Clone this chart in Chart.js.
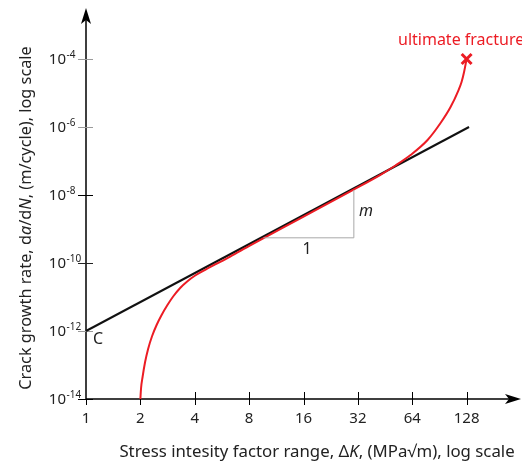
<!DOCTYPE html>
<html>
<head>
<meta charset="utf-8">
<script src="https://cdn.jsdelivr.net/npm/chart.js@4.4.1/dist/chart.umd.min.js"></script>
<style>
  html, body { margin: 0; padding: 0; background: #fff; }
  #wrap { width: 522px; height: 465px; }
</style>
</head>
<body>
<div id="wrap"><canvas id="crackChart" width="522" height="465"></canvas></div>
<script>
// red measured curve (stress intensity range vs crack growth rate)
const deltaK = [2, 2.018, 2.057, 2.124, 2.207, 2.323, 2.46, 2.622, 2.813, 3.037, 3.321, 3.631, 4.021, 4.569, 5.191, 6.287, 8.117, 15.37, 29.09, 42.68, 51.7, 62.6, 77.8, 91.8, 104.3, 115.5, 120.0, 123.9, 128];
const growthRate = [1e-14, 2.11e-14, 4.44e-14, 1.22e-13, 2.96e-13, 7.13e-13, 1.5e-12, 2.96e-12, 5.62e-12, 1.035e-11, 1.84e-11, 2.86e-11, 4.29e-11, 6.31e-11, 9.04e-11, 1.55e-10, 3.3e-10, 2.05e-9, 1.28e-8, 3.93e-8, 7.38e-8, 1.5e-7, 4.15e-7, 1.31e-6, 3.87e-6, 1.22e-5, 2.11e-5, 4.15e-5, 1e-4];

// Paris law straight line
const parisK = [1, 132];
const parisRate = [1e-12, 1e-6];

// slope triangle (1 : m)
const slopeK = [9.6, 30.4, 30.4];
const slopeRate = [5.5e-10, 5.5e-10, 1.4e-8];

const fractureK = [128];
const fractureRate = [1e-4];

const xTicks = [1, 2, 4, 8, 16, 32, 64, 128];
const yExponents = [-14, -12, -10, -8, -6, -4];
const yTickColors = ['#000', '#9a9a9a', '#222', '#000', '#9a9a9a', '#9a9a9a'];

const RED = '#ec1c24';
const FONT = '"Noto Sans", "Open Sans", sans-serif';

const pts = (xs, ys) => xs.map((x, i) => ({ x: x, y: ys[i] }));

function drawSegments(ctx, parts, size) {
    // parts: [text, italic]; drawn centred on 0,0
    const widths = parts.map(p => {
        ctx.font = (p[1] ? 'italic ' : '') + size + 'px ' + FONT;
        return ctx.measureText(p[0]).width;
    });
    let x = -widths.reduce((a, b) => a + b, 0) / 2;
    parts.forEach((p, i) => {
        ctx.font = (p[1] ? 'italic ' : '') + size + 'px ' + FONT;
        ctx.fillText(p[0], x, 0);
        x += widths[i];
    });
}

const axesPlugin = {
    id: 'axes',
    beforeDatasetsDraw(c) {
        const ctx = c.ctx, xs = c.scales.x, ys = c.scales.y;
        const x0 = Math.round(xs.getPixelForValue(1)), y0 = Math.round(ys.getPixelForValue(1e-14));
        const top = c.chartArea.top, right = c.chartArea.right;
        ctx.save();
        ctx.strokeStyle = '#000';
        ctx.lineWidth = 1.5;
        ctx.beginPath();
        ctx.moveTo(x0, y0); ctx.lineTo(x0, top + 4);
        ctx.moveTo(x0, y0); ctx.lineTo(right - 4, y0);
        ctx.stroke();

        // arrow heads
        ctx.fillStyle = '#000';
        ctx.beginPath();
        ctx.moveTo(x0, top); ctx.lineTo(x0 + 5, top + 16); ctx.lineTo(x0, top + 12); ctx.lineTo(x0 - 5, top + 16);
        ctx.closePath(); ctx.fill();
        ctx.beginPath();
        ctx.moveTo(right, y0); ctx.lineTo(right - 16, y0 - 5); ctx.lineTo(right - 12, y0); ctx.lineTo(right - 16, y0 + 5);
        ctx.closePath(); ctx.fill();

        // x ticks
        ctx.lineWidth = 1;
        xTicks.forEach(v => {
            const px = Math.round(xs.getPixelForValue(v)) + 0.5;
            ctx.beginPath();
            ctx.moveTo(px, v === 1 ? y0 : y0 - 7); ctx.lineTo(px, y0 + 6);
            ctx.stroke();
        });
        // y ticks
        yExponents.forEach((e, i) => {
            const py = Math.round(ys.getPixelForValue(Math.pow(10, e))) + 0.5;
            ctx.strokeStyle = yTickColors[i];
            ctx.beginPath();
            ctx.moveTo(x0 - 8, py); ctx.lineTo(x0 + 7, py);
            ctx.stroke();
        });
        ctx.restore();
    },
    afterDraw(c) {
        const ctx = c.ctx, xs = c.scales.x, ys = c.scales.y;
        ctx.save();
        ctx.fillStyle = '#222';
        ctx.textBaseline = 'middle';

        // x tick labels
        ctx.font = '15px ' + FONT;
        ctx.textAlign = 'center';
        xTicks.forEach(v => ctx.fillText(String(v), xs.getPixelForValue(v), 419));

        // y tick labels 10^e
        yExponents.forEach(e => {
            const py = ys.getPixelForValue(Math.pow(10, e));
            ctx.font = '15px ' + FONT;
            ctx.textAlign = 'right';
            ctx.textBaseline = 'middle';
            ctx.fillText('10', 66, py + 1);
            ctx.font = '10px ' + FONT;
            ctx.textAlign = 'left';
            ctx.textBaseline = 'alphabetic';
            ctx.fillText('-' + Math.abs(e), 66.5, py - 1.5);
        });

        // axis titles
        ctx.textAlign = 'left';
        ctx.textBaseline = 'middle';
        ctx.save();
        ctx.translate(317, 452);
        drawSegments(ctx, [['Stress intesity factor range, \u0394', false], ['K', true], [', (MPa\u221Am), log scale', false]], 16.8);
        ctx.restore();
        ctx.save();
        ctx.translate(26, 218);
        ctx.rotate(-Math.PI / 2);
        drawSegments(ctx, [['Crack growth rate, d', false], ['a', true], ['/d', false], ['N', true], [', (m/cycle), log scale', false]], 16.3);
        ctx.restore();

        // annotations
        ctx.font = '16px ' + FONT;
        ctx.fillText('C', 93, 339);
        ctx.textAlign = 'center';
        ctx.fillText('1', 307, 249);
        ctx.font = 'italic 16px ' + FONT;
        ctx.fillText('m', 366, 211);
        ctx.fillStyle = RED;
        ctx.font = '16px ' + FONT;
        ctx.textAlign = 'left';
        ctx.fillText('ultimate fracture', 398, 40);
        ctx.restore();
    }
};

chart = new Chart(document.getElementById('crackChart').getContext('2d'), {
    type: 'line',
    data: {
        datasets: [
            {
                data: pts(slopeK, slopeRate),
                borderColor: '#a8a8a8',
                borderWidth: 1,
                pointRadius: 0,
                tension: 0
            },
            {
                data: pts(deltaK, growthRate),
                borderColor: RED,
                borderWidth: 2,
                pointRadius: 0,
                cubicInterpolationMode: 'monotone'
            },
            {
                data: pts(parisK, parisRate),
                borderColor: '#111',
                borderWidth: 2,
                pointRadius: 0,
                tension: 0
            },
            {
                data: pts(fractureK, fractureRate),
                showLine: false,
                pointStyle: 'crossRot',
                pointRadius: 7,
                borderColor: RED,
                borderWidth: 3
            }
        ]
    },
    options: {
        responsive: false,
        animation: false,
        layout: { autoPadding: false, padding: { left: 86, top: 8, right: 1, bottom: 66 } },
        scales: {
            x: { type: 'logarithmic', min: 1, max: 256, display: false },
            y: { type: 'logarithmic', min: 1e-14, max: Math.pow(10, -2.5), display: false }
        },
        plugins: { legend: { display: false }, tooltip: { enabled: false } },
        elements: { line: { fill: false } },
        clip: false
    },
    plugins: [axesPlugin]
});
</script>
</body>
</html>
